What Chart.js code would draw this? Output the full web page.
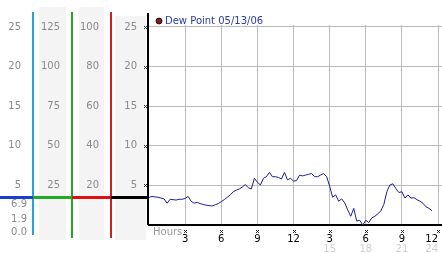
<!DOCTYPE html>
<html>
<head>
<meta charset="utf-8">
<script src="https://cdn.jsdelivr.net/npm/chart.js@4/dist/chart.umd.min.js"></script>
<style>
  html, body { margin: 0; padding: 0; background: #fff; }
</style>
</head>
<body>
<canvas id="dewChart" width="442" height="253"></canvas>
<script>
// hours since midnight
const hours = [0,0.25,0.5,0.75,1,1.25,1.5,1.75,2,2.25,2.5,2.75,3,3.25,3.5,3.75,4,4.25,4.5,4.75,
  5,5.25,5.5,5.75,6,6.25,6.5,6.75,7,7.25,7.5,7.75,8,8.25,8.5,8.75,9,9.25,9.5,9.75,
  10,10.25,10.5,10.75,11,11.25,11.5,11.75,12,12.25,12.5,12.75,13,13.25,13.5,13.75,14,14.25,14.5,14.75,
  15,15.25,15.5,15.75,16,16.25,16.5,16.75,17,17.25,17.5,17.75,18,18.25,18.5,18.75,19,19.25,19.5,19.75,
  20,20.25,20.5,20.75,21,21.25,21.5,21.75,22,22.25,22.5,22.75,23,23.25,23.5];
const dewPoint = [3.5,3.6,3.55,3.5,3.4,3.3,2.75,3.25,3.2,3.15,
  3.25,3.25,3.35,3.6,3.0,2.75,2.85,2.7,2.6,2.5,
  2.45,2.4,2.55,2.7,2.95,3.2,3.5,3.8,4.2,4.4,
  4.55,4.8,5.1,4.7,4.55,5.9,5.4,5.05,5.9,6.1,
  6.65,6.1,6.1,6.0,5.8,6.65,5.7,5.9,5.55,5.6,
  6.3,6.2,6.3,6.4,6.5,6.1,6.1,6.3,6.5,6.1,
  4.9,3.5,3.8,3.0,3.3,2.8,1.9,1.1,2.1,0.5,
  0.6,0.0,0.6,0.3,0.9,1.1,1.4,1.8,2.6,4.2,
  5.05,5.2,4.6,4.1,4.2,3.4,3.8,3.4,3.45,3.2,
  3.0,2.75,2.3,2.1,1.8];

const xTicks = [0, 3, 6, 9, 12, 15, 18, 21, 24];
const yTicks = [5, 10, 15, 20, 25];        // main scale (and first / last column)
const col2Ticks = [25, 50, 75, 100, 125];
const col3Ticks = [20, 40, 60, 80, 100];
const stats = ["6.9", "1.9", "0.0"];
const markLevel = 3.55;
const legendText = "Dew Point 05/13/06";

const FONT = "DejaVu Sans, Verdana, sans-serif";
const Y_MAX = 25.25;

function fixedTicks(list) {
  return s => { s.ticks = list.map(v => ({ value: v })); };
}
function sideAxis(max, list, width, weight) {
  return {
    position: "left", min: 0, max: max, weight: weight,
    afterBuildTicks: fixedTicks(list),
    afterFit: s => { s.width = width; s.paddingTop = 0; s.paddingBottom = 0; },
    grid: { display: false, drawTicks: false },
    border: { display: false },
    ticks: { padding: 12, color: "#8a8a8a", font: { family: FONT, size: 10 } }
  };
}

function tickMark(ctx, x, y) {
  ctx.fillStyle = "#333";
  ctx.fillRect(x - 1, y - 1, 1, 1);
  ctx.fillRect(x + 1, y - 1, 1, 1);
  ctx.fillRect(x, y, 1, 1);
  ctx.fillRect(x - 1, y + 1, 1, 1);
  ctx.fillRect(x + 1, y + 1, 1, 1);
}

const panels = {
  id: "panels",
  beforeDraw(chart) {
    const ctx = chart.ctx;
    ctx.save();
    ctx.fillStyle = "#f4f4f4";
    ctx.fillRect(39, 7, 27, 233);
    ctx.fillRect(79, 7, 25, 233);
    ctx.fillRect(115, 16, 31, 224);
    ctx.restore();
  },
  afterDraw(chart) {
    const ctx = chart.ctx;
    const y = chart.scales.y;
    const x = chart.scales.x;
    const area = chart.chartArea;
    ctx.save();
    // column separators
    const vlines = [[32, 12, 235, "#2aa0e0"], [71, 12, 238, "#22a822"], [110, 12, 238, "#d02020"]];
    vlines.forEach(([vx, y0, y1, c]) => {
      ctx.fillStyle = c;
      ctx.fillRect(vx, y0, 2, y1 - y0);
    });
    // left axis
    ctx.fillStyle = "#000";
    ctx.fillRect(area.left - 2, 13, 2, area.bottom - 13);
    // level bar
    const ly = Math.round(y.getPixelForValue(markLevel));
    const segs = [[0, 33, "#1a3fd0"], [33, 72, "#22aa22"], [72, 111, "#e01010"], [111, area.left, "#000"]];
    segs.forEach(([a, b, c]) => { ctx.fillStyle = c; ctx.fillRect(a, ly - 1, b - a, 3); });
    // stats
    ctx.fillStyle = "#8a8a8a";
    ctx.font = "10px " + FONT;
    ctx.textAlign = "right"; ctx.textBaseline = "middle";
    [204, 219, 232].forEach((py, i) => ctx.fillText(stats[i], 27, py));
    // tick marks
    yTicks.forEach(v => tickMark(ctx, area.left - 4, Math.round(y.getPixelForValue(v))));
    xTicks.slice(1).forEach(v => tickMark(ctx, Math.round(x.getPixelForValue(v)), 231));
    // hours label
    ctx.textAlign = "left";
    ctx.fillStyle = "#999";
    ctx.fillText("Hours", 153, 232);
    // legend
    ctx.beginPath(); ctx.arc(159, 21, 3, 0, Math.PI * 2);
    ctx.fillStyle = "#8b1a1a"; ctx.fill();
    ctx.strokeStyle = "#000"; ctx.lineWidth = 0.8; ctx.stroke();
    ctx.fillStyle = "#2a3aa8";
    ctx.fillText(legendText, 165, 21);
    ctx.restore();
  }
};

new Chart(document.getElementById("dewChart").getContext("2d"), {
  type: "line",
  data: {
    datasets: [{
      label: legendText,
      data: hours.map((h, i) => ({ x: h, y: dewPoint[i] })),
      borderColor: "#1c1c9c",
      borderWidth: 1,
      pointRadius: 0,
      tension: 0,
    }],
  },
  options: {
    responsive: false,
    animation: false,
    layout: { padding: { top: 25, right: 0, left: 0, bottom: 0 } },
    plugins: { legend: { display: false }, tooltip: { enabled: false } },
    scales: {
      x: {
        type: "linear", position: "bottom", min: 0, max: 24.33, weight: 0,
        afterBuildTicks: fixedTicks(xTicks),
        afterFit: s => { s.height = 17; s.paddingLeft = 0; s.paddingRight = 0; },
        grid: { color: "#bbb", drawTicks: false, lineWidth: c => (c.tick && c.tick.value === 0 ? 0 : 1) },
        border: { color: "#000", width: 2 },
        ticks: {
          padding: 8, color: "#000", maxRotation: 0, autoSkip: false, align: "inner",
          font: { family: FONT, size: 10 },
          callback: v => (v === 0 ? "" : String(v > 12 ? v - 12 : v)),
        },
      },
      x2: {
        type: "linear", position: "bottom", min: 0, max: 24.33, weight: 1,
        afterBuildTicks: fixedTicks(xTicks),
        afterFit: s => { s.height = 11; s.paddingLeft = 0; s.paddingRight = 0; },
        grid: { display: false, drawTicks: false },
        border: { display: false },
        ticks: {
          padding: 1, color: "#cfcfcf", maxRotation: 0, autoSkip: false, align: "inner",
          font: { family: FONT, size: 10 },
          callback: v => (v > 12 ? String(v) : ""),
        },
      },
      y: {
        position: "left", min: 0, max: Y_MAX, weight: 0,
        afterBuildTicks: fixedTicks(yTicks),
        afterFit: s => { s.width = 38; s.paddingTop = 0; s.paddingBottom = 0; },
        grid: { color: "#bbb", drawTicks: false },
        border: { display: false },
        ticks: { padding: 12, color: "#8a8a8a", font: { family: FONT, size: 10 } },
      },
      y3: sideAxis(Y_MAX * 4, col3Ticks, 39, 1),
      y2: sideAxis(Y_MAX * 5, col2Ticks, 39, 2),
      y1: sideAxis(Y_MAX, yTicks, 33, 3),
    },
  },
  plugins: [panels],
});
</script>
</body>
</html>
